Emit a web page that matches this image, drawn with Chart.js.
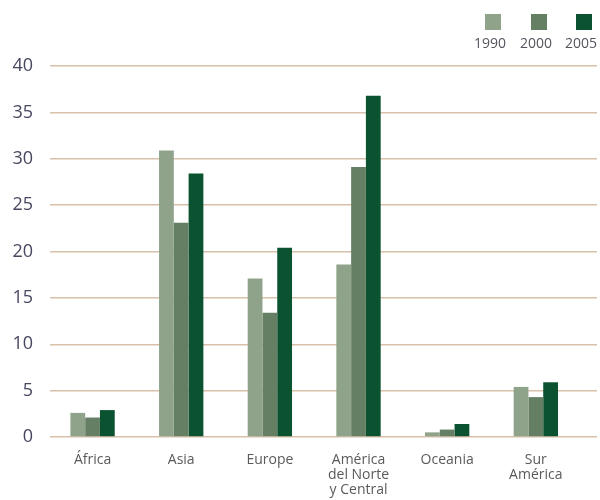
<!DOCTYPE html>
<html>
<head>
<meta charset="utf-8">
<script src="https://cdn.jsdelivr.net/npm/chart.js@4"></script>
<style>
  html, body { margin: 0; padding: 0; background: #fff; }
  #wrap { width: 600px; height: 500px; position: relative; }
</style>
</head>
<body>
<div id="wrap"><canvas id="stage"></canvas></div>
<script>
// regiones (etiquetas en varias lineas)
const regions = [['África'], ['Asia'], ['Europe'], ['América', 'del Norte', 'y Central'], ['Oceania'], ['Sur', 'América']];
const years = ['1990', '2000', '2005'];
const v1990 = [2.6, 30.9, 17.1, 18.6, 0.5, 5.4];
const v2000 = [2.1, 23.1, 13.4, 29.1, 0.8, 4.3];
const v2005 = [2.9, 28.4, 20.4, 36.8, 1.4, 5.9];
const yTicks = [0, 5, 10, 15, 20, 25, 30, 35, 40];
const colors = ['#8fa38a', '#657f64', '#0a5230'];

const canvas = document.getElementById('stage');

function toPoints(arr) {
    return arr.map((v, i) => ({ x: i, y: v }));
}

// leyenda arriba a la derecha: cuadro encima del año
const topLegend = {
    id: 'topLegend',
    afterDraw(chart) {
        const ctx = chart.ctx;
        const xs = [493, 539, 584];
        ctx.save();
        ctx.font = '14px "Open Sans"';
        ctx.textAlign = 'center';
        ctx.textBaseline = 'middle';
        for (let i = 0; i < years.length; ++i) {
            ctx.fillStyle = colors[i];
            ctx.fillRect(xs[i] - 8, 14, 16, 16);
            ctx.fillStyle = '#55555f';
            ctx.fillText(years[i], xs[i] - 3, 44);
        }
        ctx.restore();
    }
};

const data = {
    datasets: [
        { label: years[0], data: toPoints(v1990), backgroundColor: colors[0] },
        { label: years[1], data: toPoints(v2000), backgroundColor: colors[1] },
        { label: years[2], data: toPoints(v2005), backgroundColor: colors[2] }
    ]
};

const options = {
    responsive: false,
    animation: false,
    layout: { padding: { top: 66, right: 3, left: 0, bottom: 0 } },
    datasets: { bar: { categoryPercentage: 0.5, barPercentage: 1.0, grouped: true } },
    plugins: { legend: { display: false }, tooltip: { enabled: false } },
    scales: {
        x: {
            type: 'linear',
            offset: false,
            min: -0.48,
            max: 5.69,
            grid: { display: false },
            border: { display: false },
            afterBuildTicks: (axis) => { axis.ticks = regions.map((r, i) => ({ value: i })); },
            afterFit: (axis) => { axis.height = 63; },
            ticks: {
                padding: 7,
                color: '#5a5a5a',
                font: { family: '"Open Sans"', size: 14, lineHeight: 1.1 },
                callback: (v) => regions[v] || ''
            }
        },
        y: {
            min: 0,
            max: 40,
            afterBuildTicks: (axis) => { axis.ticks = yTicks.map(v => ({ value: v })); },
            afterFit: (axis) => { axis.width = 50; },
            grid: { color: '#d8c0aa', lineWidth: 1.5, drawTicks: false },
            border: { display: false },
            ticks: {
                padding: 17,
                color: '#474760',
                font: { family: '"Open Sans"', size: 18 }
            }
        }
    }
};

canvas.width = 600;
canvas.height = 500;
const chart = new Chart(canvas, {
    type: 'bar',
    data: data,
    options: options,
    plugins: [topLegend]
});
</script>
</body>
</html>
